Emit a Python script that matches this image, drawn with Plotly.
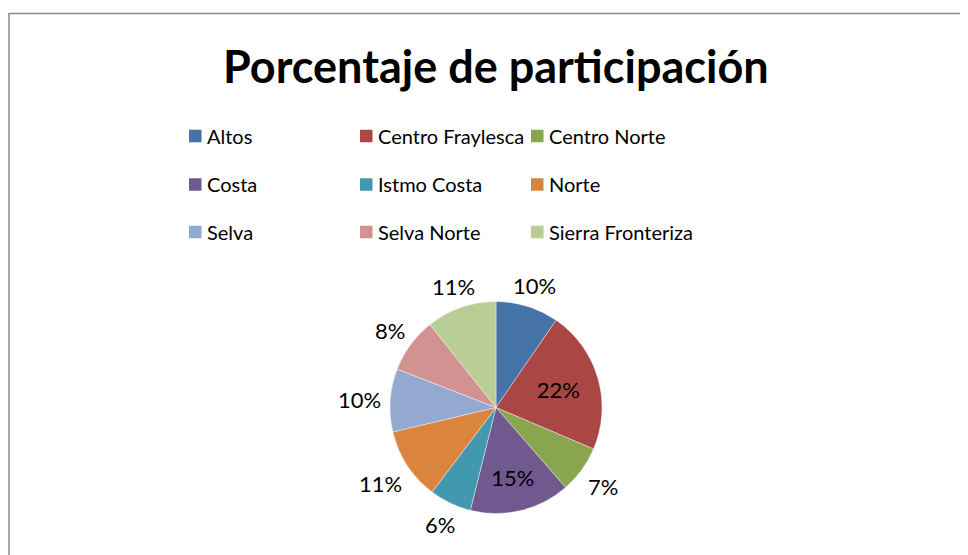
import math
import plotly.graph_objects as go

# ---- data ----
title_text = "Porcentaje de participación"
regions = ["Altos", "Centro Fraylesca", "Centro Norte", "Costa", "Istmo Costa",
           "Norte", "Selva", "Selva Norte", "Sierra Fronteriza"]
shares = [9.6, 21.8, 7.2, 15.3, 6.4, 11.0, 9.6, 8.4, 10.7]
inside_label = [False, True, False, True, False, False, False, False, False]
colors = ["#4572A7", "#AA4643", "#89A54E", "#71588F", "#4198AF",
          "#DB843D", "#93A9CF", "#D19392", "#B9CD96"]

# page body has an 8px margin; work in window pixel coordinates
OFF = 8
W, H = 968 - OFF, 555 - OFF
FONT = "Lato"
LBL_SIZE = 22


def px_x(x):
    return (x - OFF) / W


def px_y(y):
    return 1 - (y - OFF) / H


fig = go.Figure()

cx, cy, r = 496, 407.5, 106
fig.add_trace(go.Pie(
    labels=regions, values=shares, sort=False, direction="clockwise", rotation=0,
    marker=dict(colors=colors, line=dict(color="white", width=0.4)),
    texttemplate="%{percent:.0%}",
    textposition=["inside" if f else "none" for f in inside_label],
    insidetextorientation="horizontal",
    textfont=dict(family=FONT, size=LBL_SIZE, color="black"),
    domain=dict(x=[px_x(cx - r), px_x(cx + r)], y=[px_y(cy + r), px_y(cy - r)]),
    showlegend=False, hoverinfo="label+percent",
))

annotations = [dict(text="<b>" + title_text + "</b>", x=px_x(496), y=px_y(66),
                    xref="paper", yref="paper", xanchor="center", yanchor="middle",
                    showarrow=False, font=dict(family=FONT, size=45, color="black"))]

# outside percentage labels, placed beyond the rim along each slice's mid-angle
total = sum(shares)
cum = 0.0
for v, inside in zip(shares, inside_label):
    mid = (cum + v / 2) / total * 2 * math.pi
    cum += v
    if inside:
        continue
    txt = f"{round(v / total * 100)}%"
    ndig = len(txt) - 1
    hw = (ndig * 0.56 + 0.85) * LBL_SIZE / 2
    hh = 8
    s, c = math.sin(mid), math.cos(mid)
    d = r + 9 + hw * abs(s) + hh * abs(c)
    annotations.append(dict(text=txt, x=px_x(cx + d * s), y=px_y(cy - d * c + 1),
                            xref="paper", yref="paper", xanchor="center", yanchor="middle",
                            showarrow=False,
                            font=dict(family=FONT, size=LBL_SIZE, color="black")))

shapes = [dict(type="rect", xref="paper", yref="paper",
               x0=px_x(9), x1=px_x(990), y0=px_y(580), y1=px_y(13.5),
               line=dict(color="#8C8C8C", width=1.5), fillcolor="rgba(0,0,0,0)")]

col_x = [189, 360, 531]
row_y = [136, 184.5, 232]
sw = 12.5
for i, (name, col) in enumerate(zip(regions, colors)):
    rx = col_x[i % 3]
    ry = row_y[i // 3]
    shapes.append(dict(type="rect", xref="paper", yref="paper",
                       x0=px_x(rx), x1=px_x(rx + sw),
                       y0=px_y(ry + sw / 2), y1=px_y(ry - sw / 2),
                       line=dict(width=0), fillcolor=col))
    annotations.append(dict(text=name, x=px_x(rx + 16), y=px_y(ry),
                            xref="paper", yref="paper", xanchor="left", yanchor="middle",
                            showarrow=False, font=dict(family=FONT, size=20, color="black")))

fig.update_layout(
    width=W, height=H, margin=dict(l=0, r=0, t=0, b=0),
    paper_bgcolor="white", plot_bgcolor="white",
    annotations=annotations, shapes=shapes,
)

fig.write_html("out.html")
